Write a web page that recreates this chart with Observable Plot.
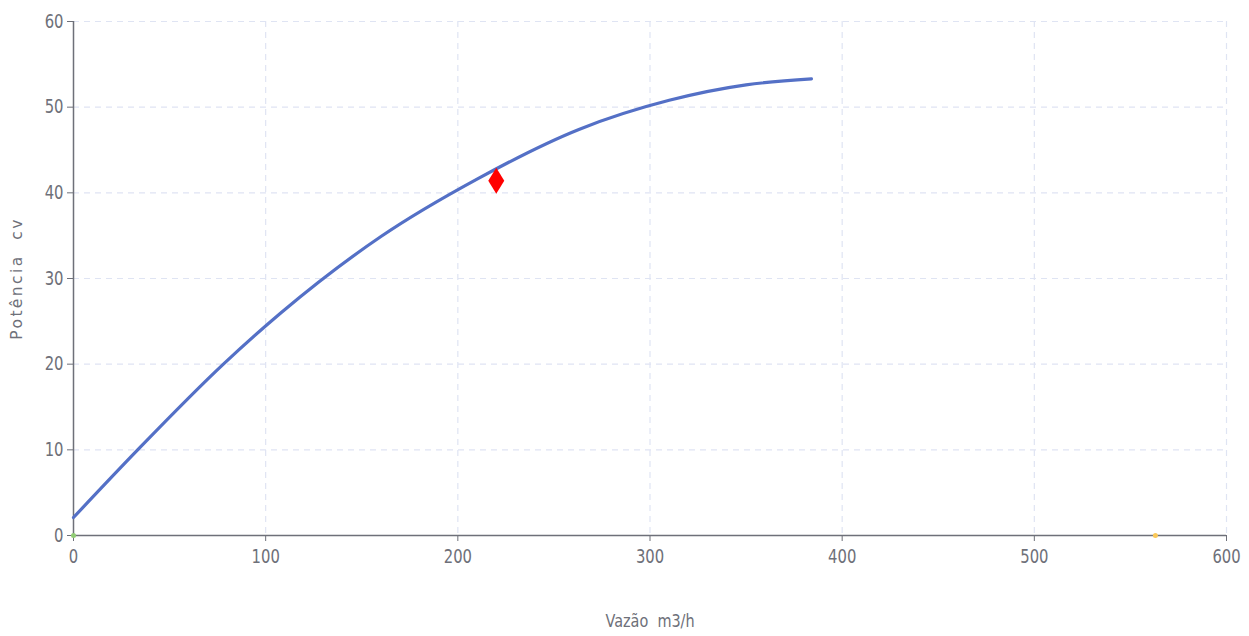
<!DOCTYPE html>
<html>
<head>
<meta charset="utf-8">
<script src="https://cdn.jsdelivr.net/npm/d3@7"></script>
<script src="https://cdn.jsdelivr.net/npm/@observablehq/plot@0.6"></script>
<style>
  html, body { margin: 0; padding: 0; background: #fff; }
  #chart { width: 1249px; height: 636px; }
  #chart .ylab text { letter-spacing: 2.4px; }
</style>
</head>
<body>
<div id="chart"></div>
<script>
const flow = [0, 33, 78, 108, 160, 210, 263, 310, 350, 384];
const power = [2.1, 9.9, 20.0, 26.0, 34.9, 41.6, 47.4, 50.8, 52.6, 53.3];
const opFlow = [220];
const opPower = [41.4];
const markerGreen = [[0, 0]];
const markerOrange = [[563, 0]];
const xTicks = [0, 100, 200, 300, 400, 500, 600];
const yTicks = [0, 10, 20, 30, 40, 50, 60];
const xLabel = "Vazão  m3/h";
const yLabel = "Potência  cv";

const curve = flow.map((f, i) => ({f, p: power[i]}));
const op = opFlow.map((f, i) => ({f, p: opPower[i]}));

const tallDiamond = {
  draw(ctx, size) {
    const w = 8, h = 13;
    ctx.moveTo(0, -h); ctx.lineTo(w, 0); ctx.lineTo(0, h); ctx.lineTo(-w, 0); ctx.closePath();
  }
};

const chart = Plot.plot({
  width: 1249,
  height: 636,
  marginLeft: 73,
  marginRight: 23,
  marginTop: 21,
  marginBottom: 101,
  style: {fontFamily: "'DejaVu Sans', sans-serif", fontSize: "19px", color: "#6e7079", background: "#fff"},
  x: {domain: [0, 600], ticks: xTicks},
  y: {domain: [0, 60], ticks: yTicks},
  marks: [
    Plot.gridX(xTicks.filter(d => d > 0), {stroke: "#dfe4f3", strokeOpacity: 1, strokeDasharray: "6,5", strokeWidth: 1.2}),
    Plot.gridY(yTicks.filter(d => d > 0), {stroke: "#dfe4f3", strokeOpacity: 1, strokeDasharray: "6,5", strokeWidth: 1.2}),
    Plot.axisX(xTicks, {tickSize: 6, tickPadding: 8, stroke: "#6e7079", fill: "#6e7079", label: null, fontSize: 19, className: "condx"}),
    Plot.axisY(yTicks, {tickSize: 6, tickPadding: 4, stroke: "#6e7079", fill: "#6e7079", label: null, fontSize: 19, className: "condy"}),
    Plot.ruleY([0], {stroke: "#6e7079", strokeWidth: 1.5}),
    Plot.ruleX([0], {stroke: "#6e7079", strokeWidth: 1.5}),
    Plot.line(curve, {x: "f", y: "p", stroke: "#5470c6", strokeWidth: 3.2, curve: "monotone-x"}),
    Plot.dot(markerGreen, {x: d => d[0], y: d => d[1], r: 2.5, fill: "#91cc75", stroke: null}),
    Plot.dot(markerOrange, {x: d => d[0], y: d => d[1], r: 2.5, fill: "#fac858", stroke: null}),
    Plot.dot(op, {x: "f", y: "p", symbol: tallDiamond, r: 5, fill: "#ff0000", stroke: null}),
    Plot.text([xLabel], {frameAnchor: "bottom", dy: 91, text: d => d, fontSize: 18.5, fill: "#6e7079", className: "condl"}),
    Plot.text([yLabel], {frameAnchor: "left", textAnchor: "middle", dx: -56, rotate: -90, text: d => d, fontSize: 15.5, fill: "#6e7079", className: "ylab"})
  ]
});
document.getElementById("chart").appendChild(chart);
// narrow the condensed-looking labels horizontally, keeping each anchor in place
chart.querySelectorAll(".condx text, .condy text, .condl text").forEach(t => {
  const tr = t.getAttribute("transform") || "";
  t.setAttribute("transform", tr + " scale(0.78,1)");
});
</script>
</body>
</html>
